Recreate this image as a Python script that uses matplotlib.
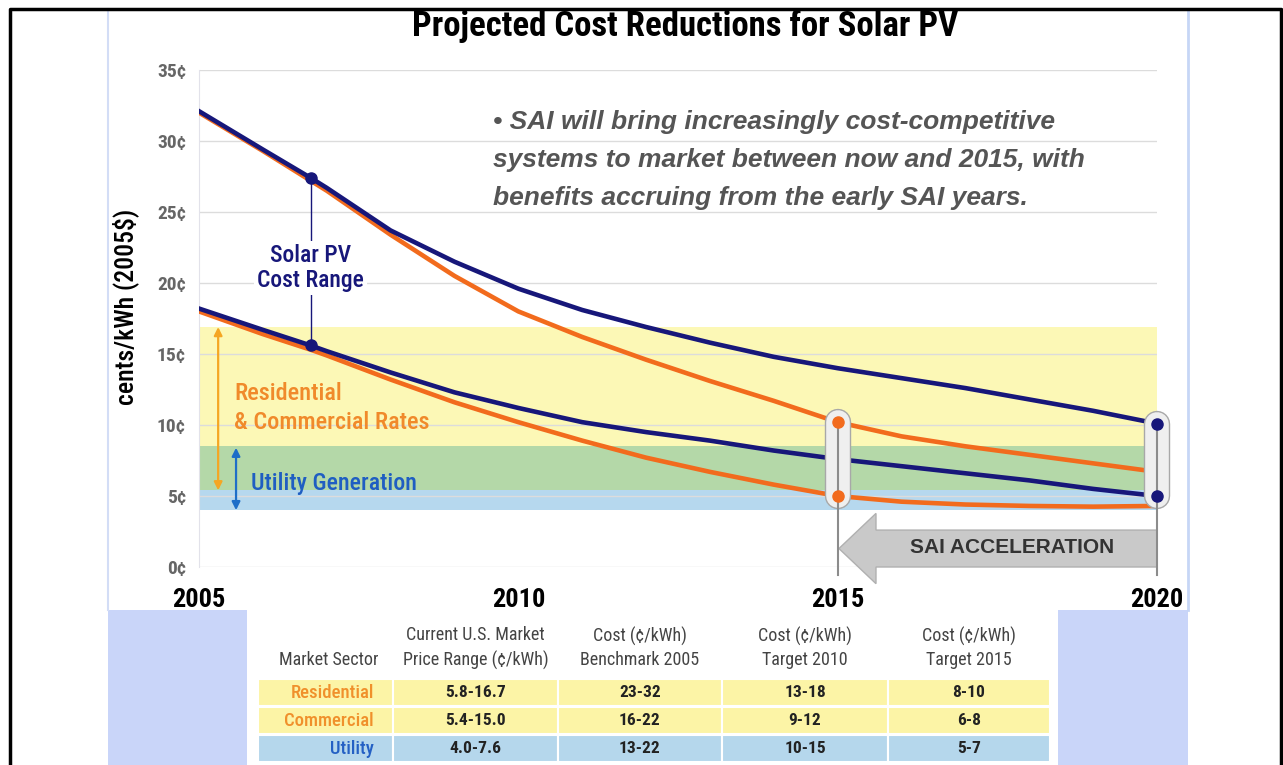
import numpy as np
import matplotlib
matplotlib.use("Agg")
import matplotlib.pyplot as plt
from matplotlib.patches import Rectangle, FancyArrow

# curve values (cents/kWh, 2005$)
years = [2005, 2006, 2006.75, 2007, 2008, 2009, 2010, 2011, 2012, 2013, 2014, 2015, 2016, 2017, 2018, 2019, 2020]
pv_high_base = [32.1, 29.4, 27.4, 26.7, 23.7, 21.5, 19.6, 18.1, 16.9, 15.8, 14.8, 14.0, 13.3, 12.6, 11.8, 11.0, 10.1]
pv_high_sai = [32.0, 29.3, 27.2, 26.5, 23.4, 20.5, 18.0, 16.2, 14.6, 13.1, 11.7, 10.2, 9.2, 8.5, 7.9, 7.3, 6.7]
pv_low_base = [18.2, 16.7, 15.6, 15.2, 13.7, 12.3, 11.2, 10.2, 9.5, 8.9, 8.2, 7.6, 7.1, 6.6, 6.1, 5.5, 5.0]
pv_low_sai = [18.0, 16.4, 15.3, 14.9, 13.2, 11.6, 10.2, 8.9, 7.7, 6.7, 5.8, 5.0, 4.6, 4.4, 4.3, 4.25, 4.3]

# market rate bands
band_lo = [8.5, 5.4, 4.0]
band_hi = [16.9, 8.5, 5.4]
band_colors = ['#fcf8b6', '#b4d8a8', '#b6d8ee']

yticks = [0, 5, 10, 15, 20, 25, 30, 35]
xticks = [2005, 2010, 2015, 2020]

# table
headers = ['Current U.S. Market\nPrice Range (¢/kWh)', 'Cost (¢/kWh)\nBenchmark 2005',
           'Cost (¢/kWh)\nTarget 2010', 'Cost (¢/kWh)\nTarget 2015']
sectors = ['Residential', 'Commercial', 'Utility']
price_range = ['5.8-16.7', '5.4-15.0', '4.0-7.6']
bench_2005 = ['23-32', '16-22', '13-22']
target_2010 = ['13-18', '9-12', '10-15']
target_2015 = ['8-10', '6-8', '5-7']

NAVY = '#17177a'
ORANGE = '#f26b1d'
ARIAL = ['Liberation Sans', 'DejaVu Sans']
plt.rcParams['font.family'] = ['Roboto Condensed', 'Liberation Sans', 'DejaVu Sans']

fig = plt.figure(figsize=(12.83, 7.65), dpi=100)

# page decorations, pixel coordinates
bg = fig.add_axes([0, 0, 1, 1])
bg.set_xlim(0, 1283)
bg.set_ylim(765, 0)
bg.axis('off')
bg.add_patch(Rectangle((108, 610), 139, 160, color='#c9d5f9', lw=0))
bg.add_patch(Rectangle((1058, 610), 130, 160, color='#c9d5f9', lw=0))
bg.plot([108, 108], [9, 610], color='#d3ddf6', lw=1.5)
bg.plot([1188, 1188], [9, 610], color='#c6d6f6', lw=2)
bg.plot([10, 10, 1281, 1281], [765, 9, 9, 765], color='black', lw=2.5)

# table
col_edges = [258, 393, 558, 722, 888, 1050]
row_tops = [679, 707, 735]
row_h = 27
row_colors = ['#fcf4a6', '#fcf4a6', '#b5d7ec']
label_colors = ['#f0902b', '#f0902b', '#2460c4']
columns = [price_range, bench_2005, target_2010, target_2015]
bg.text(378, 660, 'Market Sector', ha='right', va='center', fontsize=13, color='#444')
for j, h in enumerate(headers):
    bg.text((col_edges[j + 1] + col_edges[j + 2]) / 2, 648, h, ha='center', va='center',
            fontsize=13, color='#444', linespacing=1.4)
for i, sector in enumerate(sectors):
    y0 = row_tops[i]
    for j in range(5):
        bg.add_patch(Rectangle((col_edges[j], y0), col_edges[j + 1] - col_edges[j], row_h,
                               facecolor=row_colors[i], edgecolor='white', lw=1.5))
    bg.text(374, y0 + row_h / 2, sector, ha='right', va='center', fontsize=13.5,
            fontweight='medium', color=label_colors[i])
    for j, col in enumerate(columns):
        bg.text((col_edges[j + 1] + col_edges[j + 2]) / 2, y0 + row_h / 2, col[i],
                ha='center', va='center', fontsize=12.5, fontweight='bold', color='#222')

# main chart
ax = fig.add_axes([199 / 1283, 198 / 765, 958 / 1283, 497 / 765])
ax.set_facecolor('none')
ax.set_xlim(2005, 2020)
ax.set_ylim(0, 35)

for lo, hi, c in zip(band_lo, band_hi, band_colors):
    ax.axhspan(lo, hi, color=c, lw=0, zorder=0.2)

ax.set_yticks(yticks)
ax.set_yticklabels([f'{v}¢' for v in yticks])
ax.set_xticks(xticks)
ax.set_xticklabels([str(v) for v in xticks])
ax.yaxis.grid(True, color='#dcdcdc', lw=1)
ax.set_axisbelow(True)
for s in ['top', 'right', 'bottom']:
    ax.spines[s].set_visible(False)
ax.spines['left'].set_color('#e2e2ea')
ax.tick_params(axis='y', length=0, pad=9, labelsize=14, labelcolor='#666')
ax.tick_params(axis='x', length=0, pad=15, labelsize=19)
for lbl in ax.get_yticklabels() + ax.get_xticklabels():
    lbl.set_fontweight('bold')
ax.set_ylabel('cents/kWh (2005$)', fontsize=18.5, fontweight='medium')
ax.yaxis.set_label_coords(-0.063, 0.523)

# cost curves
ax.plot(years, pv_high_sai, color=ORANGE, lw=3.3, zorder=3)
ax.plot(years, pv_low_sai, color=ORANGE, lw=3.3, zorder=3)
ax.plot(years, pv_high_base, color=NAVY, lw=3.3, zorder=4)
ax.plot(years, pv_low_base, color=NAVY, lw=3.3, zorder=4)

# Solar PV cost range marker
i1 = years.index(2006.75)
ax.plot([years[i1]] * 2, [pv_high_base[i1], pv_low_base[i1]], color=NAVY, lw=1, zorder=5)
ax.plot([years[i1]] * 2, [pv_high_base[i1], pv_low_base[i1]], 'o', color=NAVY, ms=8, zorder=6)
ax.text(years[i1], 21.05, 'Solar PV\nCost Range', ha='center', va='center', color=NAVY,
        fontsize=17, fontweight='medium', zorder=5, linespacing=1.15,
        bbox=dict(fc='white', ec='none', pad=2))

# rate annotations
ax.annotate('', xy=(2005.30, 16.9), xytext=(2005.30, 5.4),
            arrowprops=dict(arrowstyle='<|-|>', color='#f5a623', lw=1.6,
                            mutation_scale=12, shrinkA=0, shrinkB=0), zorder=5)
ax.annotate('', xy=(2005.58, 8.4), xytext=(2005.58, 4.0),
            arrowprops=dict(arrowstyle='<|-|>', color='#1e6ec8', lw=1.6,
                            mutation_scale=12, shrinkA=0, shrinkB=0), zorder=5)
ax.text(2005.55, 11.2, 'Residential\n& Commercial Rates', color='#f08a2b', fontsize=17.5,
        fontweight='medium', va='center', ha='left', linespacing=1.3, zorder=5)
ax.text(2005.81, 5.9, 'Utility Generation', color='#1f5ec2', fontsize=17.2,
        fontweight='medium', va='center', ha='left', zorder=5)

# SAI capsules at 2015 and 2020
i15 = years.index(2015)
caps = [(2015, pv_high_sai[i15], pv_low_sai[i15], ORANGE),
        (2020, pv_high_base[-1], pv_low_base[-1], NAVY)]
for yr, hi, lo, c in caps:
    ax.plot([yr, yr], [hi, lo], color='#a8a8a8', lw=19, solid_capstyle='round',
            zorder=7, clip_on=False)
    ax.plot([yr, yr], [hi, lo], color='white', lw=17, alpha=0.82, solid_capstyle='round',
            zorder=7.1, clip_on=False)
    ax.plot([yr, yr], [hi, -0.55], color='#8c8c8c', lw=1.5, zorder=7.2, clip_on=False)
    ax.plot([yr, yr], [hi, lo], 'o', color=c, ms=8, zorder=8, clip_on=False)

ax.add_patch(FancyArrow(2020, 1.3, -4.98, 0, width=2.6, head_width=4.95, head_length=0.58,
                        length_includes_head=True, fc='#c9c9c9', ec='#b0b0b0', lw=1,
                        zorder=6, clip_on=False))
ax.text(2017.73, 1.34, 'SAI ACCELERATION', ha='center', va='center', fontsize=15,
        fontweight='bold', color='#333', family=ARIAL, zorder=7)

ax.text(2009.6, 28.65,
        '• SAI will bring increasingly cost-competitive\n'
        'systems to market between now and 2015, with\n'
        'benefits accruing from the early SAI years.',
        ha='left', va='center', fontsize=19, fontweight='bold', fontstyle='italic',
        color='#555', linespacing=1.72, family=ARIAL, zorder=5)

fig.text(685 / 1283, 1 - 26 / 765, 'Projected Cost Reductions for Solar PV', ha='center',
         va='center', fontsize=25, fontweight='bold')

fig.savefig('out.png', dpi=100)
